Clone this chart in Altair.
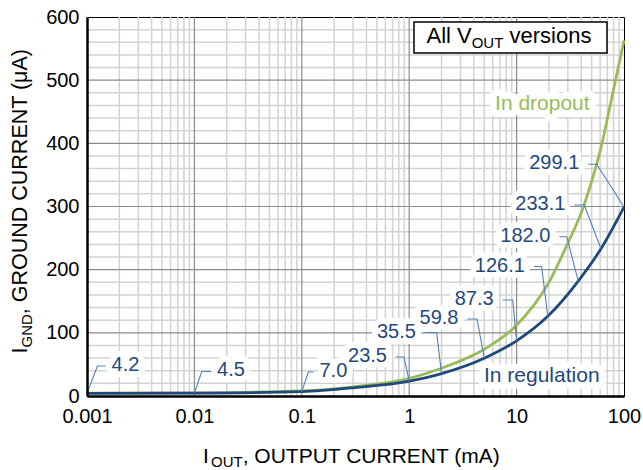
import altair as alt
import pandas as pd

# ---------------- data ----------------
reg_iout = [0.001, 0.01, 0.1, 0.3, 1, 2, 5, 10, 19.5, 37.5, 61, 100]
reg_ignd = [4.2, 4.5, 7.0, 13.0, 23.5, 35.5, 59.8, 87.3, 126.1, 182.0, 233.1, 299.1]

drop_iout = [0.001, 0.01, 0.1, 0.3, 1, 2, 5, 10, 20, 30, 40, 50, 60, 75, 100]
drop_ignd = [4.6, 5.0, 8.0, 14.5, 28, 44, 74, 112, 180, 242, 290, 340, 388, 463, 563]

# value call-outs on the "In regulation" curve
ann_text = ["4.2", "4.5", "7.0", "23.5", "35.5", "59.8", "87.3", "126.1", "182.0", "233.1", "299.1"]
ann_px = [0.001, 0.01, 0.1, 1, 2, 5, 10, 19.5, 37.5, 61, 100]
ann_py = [4.2, 4.5, 7.0, 23.5, 35.5, 59.8, 87.3, 126.1, 182.0, 233.1, 299.1]
# elbow of each leader line and end of its short horizontal stub (data units)
ann_ex = [0.00125, 0.0117, 0.115, 0.895, 1.80, 4.28, 9.20, 17.1, 29.3, 42.7, 55.7]
ann_ey = [47.5, 38.8, 38.0, 61.7, 100.5, 121.9, 152.0, 205.0, 252.2, 302.4, 366.8]
ann_hx = [0.00149, 0.0143, 0.1285, 0.753, 1.40, 3.49, 7.42, 14.5, 25.0, 34.5, 46.5]
ann_side = ["right", "right", "right", "left", "left", "left", "left", "left", "left", "left", "left"]

# grid / tick values
x_ticks = [0.001, 0.01, 0.1, 1, 10, 100]
x_major_grid = [0.01, 0.1, 1, 10]
x_minor_grid = [m * d for d in [0.001, 0.01, 0.1, 1, 10] for m in range(2, 10)]
y_ticks = [0, 100, 200, 300, 400, 500, 600]
y_major_grid = [100, 200, 300, 400, 500]
y_minor_grid = [v for v in range(20, 600, 20) if v % 100]

# ---------------- styling ----------------
FONT = "Liberation Sans"
BLUE = "#1F497D"
GREEN = "#9BBB59"
LEADER = "#4F81BD"
W, H = 537, 379

xs = alt.Scale(type="log", domain=[0.001, 100], nice=False)
ys = alt.Scale(domain=[0, 600], nice=False, zero=False)
xaxis = alt.Axis(values=x_ticks, format="~g", labelFlush=False, labelOverlap=False,
                 labelPadding=10, title=None, zindex=1, grid=False, ticks=False)
yaxis = alt.Axis(values=y_ticks, format="d", labelPadding=8, labelOverlap=False,
                 title=None, zindex=1, grid=False, ticks=False)


def X(field):
    return alt.X(field, scale=xs, axis=xaxis)


def Y(field):
    return alt.Y(field, scale=ys, axis=yaxis)


# ---------------- grid ----------------
def vgrid(vals, color, width):
    return alt.Chart(pd.DataFrame({"v": vals})).mark_rule(color=color, strokeWidth=width).encode(
        x=X("v:Q"), y=alt.value(0), y2=alt.value(H))


def hgrid(vals, color, width):
    return alt.Chart(pd.DataFrame({"v": vals})).mark_rule(color=color, strokeWidth=width).encode(
        y=Y("v:Q"), x=alt.value(0), x2=alt.value(W))


grid_layers = [
    vgrid(x_minor_grid, "#d3d3d3", 1.5),
    hgrid(y_minor_grid, "#d3d3d3", 1.5),
    vgrid(x_major_grid, "#8c8c8c", 1.2),
    hgrid(y_major_grid, "#8c8c8c", 1.2),
]

# ---------------- curves ----------------
reg_df = pd.DataFrame({"x": reg_iout, "y": reg_ignd})
drop_df = pd.DataFrame({"x": drop_iout, "y": drop_ignd})

reg_line = alt.Chart(reg_df).mark_line(color=BLUE, strokeWidth=2.8, interpolate="monotone").encode(
    x=X("x:Q"), y=Y("y:Q"))
drop_line = alt.Chart(drop_df).mark_line(color=GREEN, strokeWidth=2.8, interpolate="monotone").encode(
    x=X("x:Q"), y=Y("y:Q"))

# ---------------- leaders ----------------
rows = []
for i in range(len(ann_text)):
    rows.append({"id": i, "o": 0, "x": ann_px[i], "y": ann_py[i]})
    rows.append({"id": i, "o": 1, "x": ann_ex[i], "y": ann_ey[i]})
    rows.append({"id": i, "o": 2, "x": ann_hx[i], "y": ann_ey[i]})
lead_df = pd.DataFrame(rows)
leaders = alt.Chart(lead_df).mark_line(color=LEADER, strokeWidth=1.1).encode(
    x=X("x:Q"), y=Y("y:Q"), detail="id:N", order="o:Q")

lab_df = pd.DataFrame({"t": ann_text, "x": ann_hx, "y": ann_ey, "side": ann_side})


def labels(side, halo):
    d = lab_df[lab_df["side"] == side]
    kw = dict(align="left", dx=6) if side == "right" else dict(align="right", dx=-9)
    if halo:
        kw.update(color="white", stroke="white", strokeWidth=12, strokeJoin="round")
    else:
        kw.update(color=BLUE)
    return alt.Chart(d).mark_text(font=FONT, fontSize=20, baseline="middle", dy=-1, **kw).encode(
        x=X("x:Q"), y=Y("y:Q"), text="t:N")


# curve names
name_df = pd.DataFrame({"t": ["In dropout", "In regulation"], "x": [6.3, 4.97], "y": [452.8, 22.6],
                        "c": [GREEN, BLUE]})


def names(halo):
    kw = dict(color="white", stroke="white", strokeWidth=14, strokeJoin="round") if halo else {}
    enc = dict(x=X("x:Q"), y=Y("y:Q"), text="t:N")
    if not halo:
        enc["color"] = alt.Color("c:N", scale=None)
    return alt.Chart(name_df).mark_text(font=FONT, fontSize=21, align="left",
                                        baseline="alphabetic", **kw).encode(**enc)


# ---------------- box "All VOUT versions" ----------------
one = pd.DataFrame({"a": [0]})
box = alt.Chart(one).mark_rect(fill="white", stroke="black", strokeWidth=1.5).encode(
    x=alt.value(327), x2=alt.value(520), y=alt.value(5), y2=alt.value(36))


def ptext(txt, x, y, size, angle=0):
    kw = dict(angle=angle) if angle else {}
    return alt.Chart(one).mark_text(text=txt, font=FONT, fontSize=size, color="black",
                                    align="left", baseline="alphabetic", **kw).encode(
        x=alt.value(x), y=alt.value(y))


box_texts = [
    ptext("All V", 339.5, 26.3, 22),
    ptext("OUT", 384.7, 31.3, 15),
    ptext("versions", 422.5, 26.3, 22),
]

# axis titles with subscripts
x_title = [
    ptext("I", 116, 445.5, 21),
    ptext("OUT", 124, 450, 15),
    ptext(", OUTPUT CURRENT (mA)", 155.7, 445.5, 21),
]
y_title = [
    ptext("I", -60.5, 336.5, 21.5, 270),
    ptext("GND", -55.3, 330.5, 15, 270),
    ptext(", GROUND CURRENT (\u03bcA)", -60.5, 297.2, 21.5, 270),
]

chart = alt.layer(
    *grid_layers,
    labels("right", True), labels("left", True), names(True),
    drop_line, reg_line, leaders,
    labels("right", False), labels("left", False), names(False),
    box, *box_texts, *x_title, *y_title,
).properties(
    width=W, height=H,
    autosize=alt.AutoSizeParams(type="none"),
    padding={"left": 87, "top": 17, "right": 19, "bottom": 74},
    background="white",
).configure_view(stroke="black", strokeWidth=1).configure_axis(
    labelFont=FONT, labelFontSize=20, labelColor="black", domainColor="black",
    domainWidth=2.5, ticks=False, grid=False,
)

chart.save("out.html", embed_options={"renderer": "svg", "actions": False})
